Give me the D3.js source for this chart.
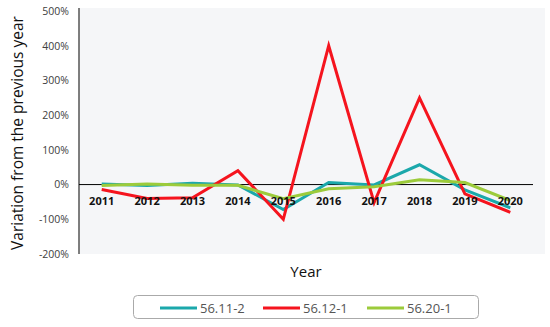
<!DOCTYPE html>
<html><head><meta charset="utf-8">
<script src="https://cdn.jsdelivr.net/npm/d3@7"></script>
<style>body{margin:0;background:#fff}svg{display:block}</style>
</head><body>
<svg id="c" width="550" height="327"></svg>
<script>
const years = ["2011","2012","2013","2014","2015","2016","2017","2018","2019","2020"];
const s5611_2 = [2, -3, 4, -1, -72, 6, -1, 57, -15, -67];
const s5612_1 = [-14, -40, -38, 40, -100, 400, -52, 250, -27, -80];
const s5620_1 = [-3, 2, -2, -2, -41, -12, -6, 14, 6, -46];
const seriesNames = ["56.11-2", "56.12-1", "56.20-1"];
const seriesColors = ["#1ba8ab", "#f5141e", "#9ccb3b"];
const yTicks = [-200, -100, 0, 100, 200, 300, 400, 500];

const series = [s5611_2, s5612_1, s5620_1];
const svg = d3.select("#c");
const L = 79, R = 533, T = 11, B = 254;

svg.append("rect").attr("x", L).attr("y", 8).attr("width", 545 - L).attr("height", B - 8).attr("fill", "#f5f6f8");

const x = d3.scaleBand().domain(years).range([L, R]);
const y = d3.scaleLinear().domain([-200, 500]).range([B, T]);

// y axis
const ya = svg.append("g").attr("transform", `translate(${L},0)`)
  .call(d3.axisLeft(y).tickValues(yTicks).tickSize(0).tickPadding(10).tickFormat(d => d + "%"));
ya.select(".domain").remove();
ya.selectAll("text").attr("font-family", "Open Sans, sans-serif").attr("font-size", 10.5).attr("fill", "#404040");
svg.append("line").attr("x1", L).attr("x2", L).attr("y1", 8).attr("y2", B).attr("stroke", "#555").attr("stroke-width", 1.5);

// zero line
svg.append("line").attr("x1", L).attr("x2", R).attr("y1", y(0)).attr("y2", y(0)).attr("stroke", "#000").attr("stroke-width", 1);

// lines
const line = d3.line().x((d, i) => x(years[i]) + x.bandwidth() / 2).y(d => y(d));
series.forEach((s, k) => {
  svg.append("path").datum(s).attr("d", line).attr("fill", "none")
    .attr("stroke", seriesColors[k]).attr("stroke-width", 3).attr("stroke-linejoin", "miter");
});

// x labels
const xa = svg.append("g").attr("transform", `translate(0,${y(0)})`)
  .call(d3.axisBottom(x).tickSize(0).tickPadding(13));
xa.select(".domain").remove();
xa.selectAll("text").attr("font-family", "Open Sans, sans-serif").attr("font-size", 11).attr("font-weight", "bold").attr("fill", "#111");

// titles
svg.append("text").attr("transform", `translate(23,133) rotate(-90)`).attr("text-anchor", "middle")
  .attr("font-family", "Open Sans, sans-serif").attr("font-size", 15.5).attr("fill", "#111")
  .text("Variation from the previous year");
svg.append("text").attr("x", 306).attr("y", 277).attr("text-anchor", "middle")
  .attr("font-family", "Open Sans, sans-serif").attr("font-size", 15).attr("fill", "#111").text("Year");

// legend
svg.append("rect").attr("x", 133.5).attr("y", 295.5).attr("width", 345).attr("height", 23).attr("rx", 4)
  .attr("fill", "#fff").attr("stroke", "#aaa");
const lx = [160, 263, 367];
seriesNames.forEach((n, k) => {
  svg.append("line").attr("x1", lx[k]).attr("x2", lx[k] + 37).attr("y1", 308).attr("y2", 308)
    .attr("stroke", seriesColors[k]).attr("stroke-width", 3);
  svg.append("text").attr("x", lx[k] + 40).attr("y", 312.5).attr("font-family", "Open Sans, sans-serif")
    .attr("font-size", 13).attr("fill", "#555").text(n);
});
</script>
</body></html>
